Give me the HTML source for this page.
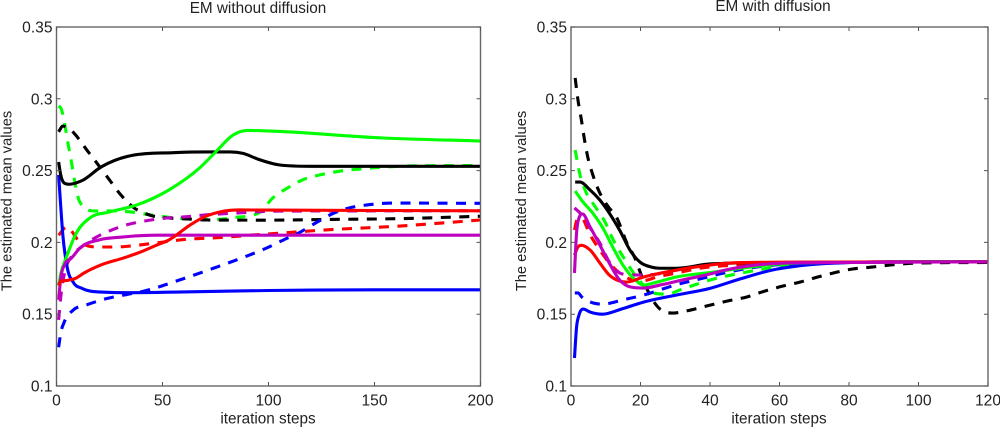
<!DOCTYPE html>
<html lang="en">
<head>
<meta charset="utf-8">
<title>EM with and without diffusion</title>
<style>
html,body{margin:0;padding:0;background:#fff;width:1000px;height:427px;overflow:hidden}
svg{display:block}
text{font-family:"Liberation Sans",Arial,sans-serif;fill:#222}
</style>
</head>
<body>
<svg id="figure" width="1000" height="427" viewBox="0 0 1000 427" xmlns="http://www.w3.org/2000/svg">
  <rect width="1000" height="427" fill="#fff"/>
  <g id="left-chart"></g>
  <g id="right-chart"></g>
  <text x="258" y="13" font-size="15.3" text-anchor="middle">EM without diffusion</text>
  <text x="773" y="11" font-size="15.3" text-anchor="middle">EM with diffusion</text>
  <text x="268" y="423.5" font-size="15.3" text-anchor="middle">iteration steps</text>
  <text x="779" y="423.5" font-size="15.3" text-anchor="middle">iteration steps</text>
  <text transform="translate(11.5 201) rotate(-90)" font-size="14.7" text-anchor="middle">The estimated mean values</text>
  <text transform="translate(526 201) rotate(-90)" font-size="14.7" text-anchor="middle">The estimated mean values</text>
</svg>
<script>
// ---- tick labels ----
const yTicks = [0.1, 0.15, 0.2, 0.25, 0.3, 0.35];
const yTickLabels = ['0.1', '0.15', '0.2', '0.25', '0.3', '0.35'];
const leftXTicks = [0, 50, 100, 150, 200];
const rightXTicks = [0, 20, 40, 60, 80, 100, 120];

// ---- left chart: EM without diffusion ----
const leftKDashIter = [1,3,6,15,25,30,36,44,53,62,71,100,130,160,200];
const leftKDashVal = [.277,.281,.279,.263,.2435,.2337,.2247,.219,.217,.2163,.2156,.2155,.216,.2165,.2182];
const leftGDashIter = [1,2,6,11,18,27,35,45,60,75,85,91,96,102,109,116,124,134,143,170,200];
const leftGDashVal = [.295,.2936,.2644,.2281,.2219,.2219,.2212,.219,.2165,.216,.2175,.2185,.221,.2309,.2379,.2435,.2469,.2497,.2511,.2533,.2535];
const leftRDashIter = [1,4.7,11,20,28,38,47,63,72,81,91,107,125,162,200];
const leftRDashVal = [.205,.2107,.2003,.1968,.1968,.198,.1996,.2024,.203,.2038,.205,.2066,.2085,.2114,.2156];
const leftMDashIter = [1,2,4,7,12,18,26,34.6,42,52,60,69,85.6,105,200];
const leftMDashVal = [.146,.162,.18,.19,.197,.203,.2086,.2128,.215,.217,.2177,.219,.2205,.2218,.222];
const leftBDashIter = [1,2,3.5,8,14,24,32,41,58,74,91,99,107,115,123,131,138,146,159,200];
const leftBDashVal = [.127,.137,.144,.153,.1564,.161,.1634,.166,.1738,.182,.1912,.196,.2017,.2072,.2142,.2205,.224,.226,.2274,.2272];
const leftBSolidIter = [1,2,3,5,8,12,20,35,60,100,150,200];
const leftBSolidVal = [.247,.225,.205,.183,.172,.168,.1655,.165,.1655,.1665,.167,.167];
const leftKSolidIter = [1,2,4,6,12,21,36,55,70,82,88,95,105,120,200];
const leftKSolidVal = [.256,.247,.241,.2405,.243,.2525,.2607,.2625,.263,.263,.262,.258,.254,.253,.253];
const leftGSolidIter = [1,2,4.7,9.4,15.7,25,37.7,53,68,76,83,90,100,154,200];
const leftGSolidVal = [.17,.178,.1898,.2066,.217,.2212,.226,.2365,.2525,.2644,.2745,.278,.2776,.2727,.2706];
const leftRSolidIter = [1,2,5,9,13,21,31.5,40,47,53,63,69.6,77,86,100,200];
const leftRSolidVal = [.17,.173,.1735,.175,.1787,.1843,.1891,.1935,.198,.2017,.2121,.2177,.2212,.2226,.2225,.222];
const leftMSolidIter = [1,2,4,7,11,20,31.6,47,60,200];
const leftMSolidVal = [.16,.175,.185,.189,.196,.2017,.2038,.205,.205,.205];

// ---- right chart: EM with diffusion ----
const rightKDashIter = [1.2,2,3,3.8,4.7,6.3,7.9,10.5,13.2,16,18.4,20,22,25,29.4,33,39,45,50.6,55,60,66,71,75.5,81,87,92,101,120];
const rightKDashVal = [.3145,.2992,.2852,.2727,.2608,.2469,.2365,.2255,.217,.2,.189,.1787,.1668,.155,.1508,.1522,.1557,.1592,.162,.1655,.169,.1724,.1759,.1787,.1815,.1829,.1843,.1857,.186];
const rightGDashIter = [1.2,2.4,4.3,6.5,9.8,12,15,18.9,23.7,27.5,32,40,50.6,61,80,120];
const rightGDashVal = [.2643,.249,.2351,.2265,.2142,.2025,.19,.1759,.1648,.164,.1675,.1738,.1794,.1836,.186,.1865];
const rightRDashIter = [1,1.7,3,5.5,8.3,11,14,18,21,24.7,30.5,37,50,60,120];
const rightRDashVal = [.2086,.2156,.217,.2052,.1947,.1857,.1787,.1738,.1735,.1759,.1787,.182,.1845,.186,.1865];
const rightMDashIter = [1,2.6,5.5,8.3,11,14,18,25,30,45,60,120];
const rightMDashVal = [.224,.2205,.21,.1996,.1864,.1787,.1773,.178,.1805,.1855,.186,.1865];
const rightBDashIter = [1.1,2,3.1,6.4,9,15,21,30,37,44,53.5,63,80,120];
const rightBDashVal = [.1648,.1648,.162,.1578,.157,.16,.1634,.1703,.1745,.1787,.1829,.185,.1862,.1865];
const rightBSolidIter = [1,1.6,2.3,3.5,5.5,9,15,21,30.4,40,48.6,58,68,77.4,90,120];
const rightBSolidVal = [.1195,.141,.1494,.1536,.1515,.15,.154,.1585,.1634,.168,.1745,.1808,.1843,.1857,.1865,.1865];
const rightKSolidIter = [1.2,2.6,5.5,8.3,11,14,17,20,23,25.6,30.5,40,60,120];
const rightKSolidVal = [.242,.242,.2365,.2295,.2205,.2085,.1945,.186,.1829,.182,.182,.185,.186,.1865];
const rightGSolidIter = [1.2,3,6.4,9.3,12,15,18,21,23.7,30.5,40,60,80,120];
const rightGSolidVal = [.2358,.2295,.22,.2095,.1968,.184,.175,.1703,.1717,.176,.179,.185,.1862,.1865];
const rightRSolidIter = [1,2,3,5.5,8.3,11,14,16,21,30.5,40,46,60,120];
const rightRSolidVal = [.191,.1968,.198,.1947,.1857,.1773,.1731,.1724,.176,.1808,.1842,.1857,.1862,.1865];
const rightMSolidIter = [1,1.6,2.4,3.3,5.5,8.3,11,14,17,21,25.6,32,40,44,53.5,63,80,120];
const rightMSolidVal = [.1787,.2066,.2177,.2198,.2107,.1982,.1857,.1738,.169,.1682,.1703,.1738,.178,.1805,.1843,.1857,.186,.1865];

// ---- series lists (references + styling) ----
const BLACK = '#000', GREEN = '#00ff00', RED = '#ff0000', MAGENTA = '#bf00bf', BLUE = '#0000ff';
const leftSeries = [
  ['green-dashed', leftGDashIter, leftGDashVal, GREEN, true],
  ['black-dashed', leftKDashIter, leftKDashVal, BLACK, true],
  ['red-dashed', leftRDashIter, leftRDashVal, RED, true],
  ['magenta-dashed', leftMDashIter, leftMDashVal, MAGENTA, true],
  ['blue-dashed', leftBDashIter, leftBDashVal, BLUE, true],
  ['blue-solid', leftBSolidIter, leftBSolidVal, BLUE, false],
  ['black-solid', leftKSolidIter, leftKSolidVal, BLACK, false],
  ['green-solid', leftGSolidIter, leftGSolidVal, GREEN, false],
  ['magenta-solid', leftMSolidIter, leftMSolidVal, MAGENTA, false],
  ['red-solid', leftRSolidIter, leftRSolidVal, RED, false]
];
const rightSeries = [
  ['black-dashed', rightKDashIter, rightKDashVal, BLACK, true],
  ['blue-dashed', rightBDashIter, rightBDashVal, BLUE, true],
  ['green-dashed', rightGDashIter, rightGDashVal, GREEN, true],
  ['red-dashed', rightRDashIter, rightRDashVal, RED, true],
  ['magenta-dashed', rightMDashIter, rightMDashVal, MAGENTA, true],
  ['blue-solid', rightBSolidIter, rightBSolidVal, BLUE, false],
  ['black-solid', rightKSolidIter, rightKSolidVal, BLACK, false],
  ['green-solid', rightGSolidIter, rightGSolidVal, GREEN, false],
  ['red-solid', rightRSolidIter, rightRSolidVal, RED, false],
  ['magenta-solid', rightMSolidIter, rightMSolidVal, MAGENTA, false]
];

const NS = 'http://www.w3.org/2000/svg';
function make(parent, tag, attrs) {
  const el = document.createElementNS(NS, tag);
  for (const k in attrs) el.setAttribute(k, attrs[k]);
  parent.appendChild(el);
  return el;
}

// Smooth monotone curve through the read points (limited parabolic tangents)
function curvePath(xs, ys) {
  const n = xs.length, d = [], m = [];
  for (let i = 0; i < n - 1; i++) d.push((ys[i + 1] - ys[i]) / (xs[i + 1] - xs[i]));
  m[0] = d[0];
  m[n - 1] = d[n - 2];
  for (let i = 1; i < n - 1; i++) {
    if (d[i - 1] * d[i] <= 0) { m[i] = 0; continue; }
    const h0 = xs[i] - xs[i - 1], h1 = xs[i + 1] - xs[i];
    const p = (d[i - 1] * h1 + d[i] * h0) / (h0 + h1);
    const lim = 3 * Math.min(Math.abs(d[i - 1]), Math.abs(d[i]));
    m[i] = Math.sign(p) * Math.min(Math.abs(p), lim);
  }
  let path = 'M' + xs[0].toFixed(2) + ' ' + ys[0].toFixed(2);
  for (let i = 0; i < n - 1; i++) {
    const h = (xs[i + 1] - xs[i]) / 3;
    path += 'C' + (xs[i] + h).toFixed(2) + ' ' + (ys[i] + m[i] * h).toFixed(2) + ' ' +
            (xs[i + 1] - h).toFixed(2) + ' ' + (ys[i + 1] - m[i + 1] * h).toFixed(2) + ' ' +
            xs[i + 1].toFixed(2) + ' ' + ys[i + 1].toFixed(2);
  }
  return path;
}

function drawChart(groupId, prefix, box, xMax, xTicks, series) {
  const g = document.getElementById(groupId);
  const sx = v => box.x0 + (box.x1 - box.x0) * v / xMax;
  const sy = v => box.y1 - (box.y1 - box.y0) * (v - 0.1) / 0.25;

  series.forEach(s => {
    const line = make(g, 'path', {
      d: curvePath(s[1].map(sx), s[2].map(sy)),
      fill: 'none',
      stroke: s[3],
      'stroke-width': 3.1,
      'stroke-linejoin': 'round',
      'stroke-dasharray': s[4] ? '10 8.5' : 'none'
    });
    
    
  });

  const frame = make(g, 'rect', {
    x: box.x0, y: box.y0, width: box.x1 - box.x0, height: box.y1 - box.y0,
    fill: 'none', stroke: '#666', 'stroke-width': 1.4
  });
  
  

  xTicks.forEach(t => {
    const x = sx(t);
    const tb = make(g, 'path', {
      d: 'M' + x + ' ' + box.y1 + 'V' + (box.y1 - 4) + 'M' + x + ' ' + box.y0 + 'V' + (box.y0 + 4),
      stroke: '#555', 'stroke-width': 1, fill: 'none'
    });
    
    
    const label = make(g, 'text', { x: x, y: box.y1 + 19.5, 'font-size': 15.6, 'text-anchor': 'middle' });
    label.textContent = String(t);
    
    
  });

  yTicks.forEach((t, i) => {
    const y = sy(t);
    const tk = make(g, 'path', {
      d: 'M' + box.x0 + ' ' + y + 'H' + (box.x0 + 4) + 'M' + box.x1 + ' ' + y + 'H' + (box.x1 - 4),
      stroke: '#555', 'stroke-width': 1, fill: 'none'
    });
    
    
    const label = make(g, 'text', { x: box.x0 - 4, y: y + 5.5, 'font-size': 15.6, 'text-anchor': 'end' });
    label.textContent = yTickLabels[i];
    
    
  });
}

drawChart('left-chart', 'left', { x0: 56.5, x1: 480.5, y0: 27, y1: 386 }, 200, leftXTicks, leftSeries);
drawChart('right-chart', 'right', { x0: 571, x1: 988, y0: 27, y1: 386 }, 120, rightXTicks, rightSeries);
</script>
</body>
</html>
